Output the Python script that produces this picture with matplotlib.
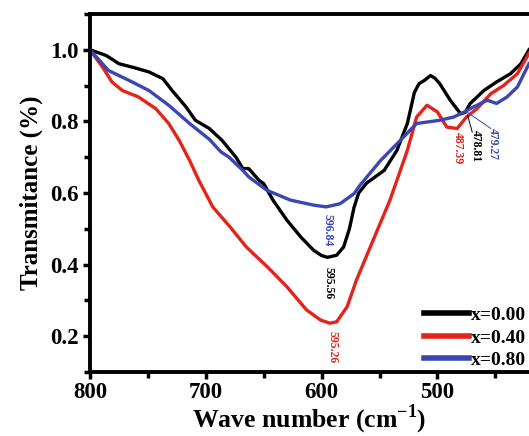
import matplotlib
matplotlib.use("Agg")
import matplotlib.pyplot as plt
from matplotlib.ticker import MultipleLocator

plt.rcParams['font.family'] = ['Liberation Serif', 'DejaVu Serif']
plt.rcParams['font.weight'] = 'bold'
plt.rcParams['mathtext.fontset'] = 'custom'
plt.rcParams['mathtext.rm'] = 'Liberation Serif:bold'
plt.rcParams['mathtext.bf'] = 'Liberation Serif:bold'

# ---- data ----
x_black = [800, 786, 775, 763, 749, 737, 729, 717, 709, 697, 686, 674, 668, 663, 654, 650, 642, 630,
           618, 607, 600, 595, 587, 581, 576, 572, 568, 561, 546, 535, 526, 520, 516, 511, 506, 502,
           498, 489, 480, 476, 472, 460, 449, 437, 428, 421]
y_black = [1.0, 0.984, 0.961, 0.951, 0.938, 0.919, 0.886, 0.840, 0.803, 0.780, 0.747, 0.700, 0.668,
           0.668, 0.635, 0.626, 0.580, 0.524, 0.477, 0.440, 0.425, 0.420, 0.426, 0.449, 0.50, 0.56,
           0.60, 0.628, 0.663, 0.719, 0.794, 0.88, 0.905, 0.915, 0.928, 0.92, 0.905, 0.859, 0.821,
           0.825, 0.849, 0.886, 0.91, 0.933, 0.961, 1.0]

x_red = [800, 789, 781, 772, 758, 743, 732, 723, 714, 706, 694, 679, 665, 647, 630, 613, 601, 593,
         587, 578, 570, 558, 541, 526, 518, 509, 500, 492, 483, 475, 466, 454, 443, 431, 421]
y_red = [1.0, 0.951, 0.91, 0.886, 0.868, 0.835, 0.794, 0.747, 0.691, 0.635, 0.561, 0.505, 0.449,
         0.394, 0.338, 0.273, 0.245, 0.236, 0.24, 0.282, 0.356, 0.449, 0.58, 0.719, 0.812, 0.845,
         0.826, 0.784, 0.78, 0.812, 0.835, 0.877, 0.90, 0.933, 0.99]

x_blue = [800, 784, 766, 749, 732, 714, 697, 687, 680, 668, 663, 647, 627, 607, 596, 584, 572, 567,
          549, 532, 518, 509, 498, 486, 477, 469, 457, 449, 440, 431, 421]
y_blue = [1.0, 0.942, 0.914, 0.886, 0.845, 0.794, 0.75, 0.715, 0.70, 0.663, 0.645, 0.607, 0.58,
          0.566, 0.561, 0.57, 0.598, 0.621, 0.691, 0.747, 0.794, 0.798, 0.803, 0.812, 0.826, 0.84,
          0.859, 0.85, 0.868, 0.896, 0.961]

labels = ['x=0.00', 'x=0.40', 'x=0.80']
colors = ['#000000', '#e4231b', '#3a46b4']

# annotations: text, x, y, color
ann_text = ['596.84', '595.56', '595.26', '487.39', '478.81', '479.27']
ann_x = [595, 594.3, 591, 482, 467, 452.5]
ann_y = [0.496, 0.348, 0.17, 0.725, 0.73, 0.736]
ann_col = [colors[2], colors[0], colors[1], colors[1], colors[0], colors[2]]

fig = plt.figure(figsize=(5.29, 4.36), dpi=100)
ax = fig.add_axes([0.170, 0.147, 0.830, 0.821])

for xs, ys, lab, c in [(x_black, y_black, labels[0], colors[0]),
                       (x_red, y_red, labels[1], colors[1]),
                       (x_blue, y_blue, labels[2], colors[2])]:
    ax.plot(xs, ys, color=c, lw=2.4, label=lab, solid_joinstyle='round')

for t, xx, yy, c in zip(ann_text, ann_x, ann_y, ann_col):
    ax.text(xx, yy, t, color=c, rotation=-90, ha='center', va='center', fontsize=8.5,
            fontweight='bold')

# leader lines
ax.plot([474, 470], [0.817, 0.77], color=colors[0], lw=0.7)
ax.plot([474, 454], [0.825, 0.78], color=colors[2], lw=0.7)

ax.set_xlim(800, 421)
ax.set_ylim(0.1, 1.1)
ax.xaxis.set_major_locator(MultipleLocator(100))
ax.xaxis.set_minor_locator(MultipleLocator(50))
ax.yaxis.set_minor_locator(MultipleLocator(0.1))
ax.set_yticks([0.2, 0.4, 0.6, 0.8, 1.0])
ax.tick_params(which='both', direction='out', width=2.5, labelsize=16.5)
ax.tick_params(which='major', length=5, pad=3)
ax.tick_params(which='minor', length=4)
ax.tick_params(axis='x', which='major', pad=2)
for s in ['left', 'bottom', 'top']:
    ax.spines[s].set_linewidth(2.8)
ax.spines['right'].set_visible(False)

ax.set_xlabel('Wave number (cm$^{-1}$)', fontsize=18.5, fontweight='bold', labelpad=0)
ax.set_ylabel('Transmitance (%)', fontsize=18, fontweight='bold', labelpad=5)

leg = ax.legend(loc='lower right', frameon=False, fontsize=14, handlelength=2.35,
                handletextpad=0.08, labelspacing=0.25, borderaxespad=0.0, borderpad=0.15)
for ln in leg.get_lines():
    ln.set_linewidth(4)

fig.savefig('out.png', dpi=100)
